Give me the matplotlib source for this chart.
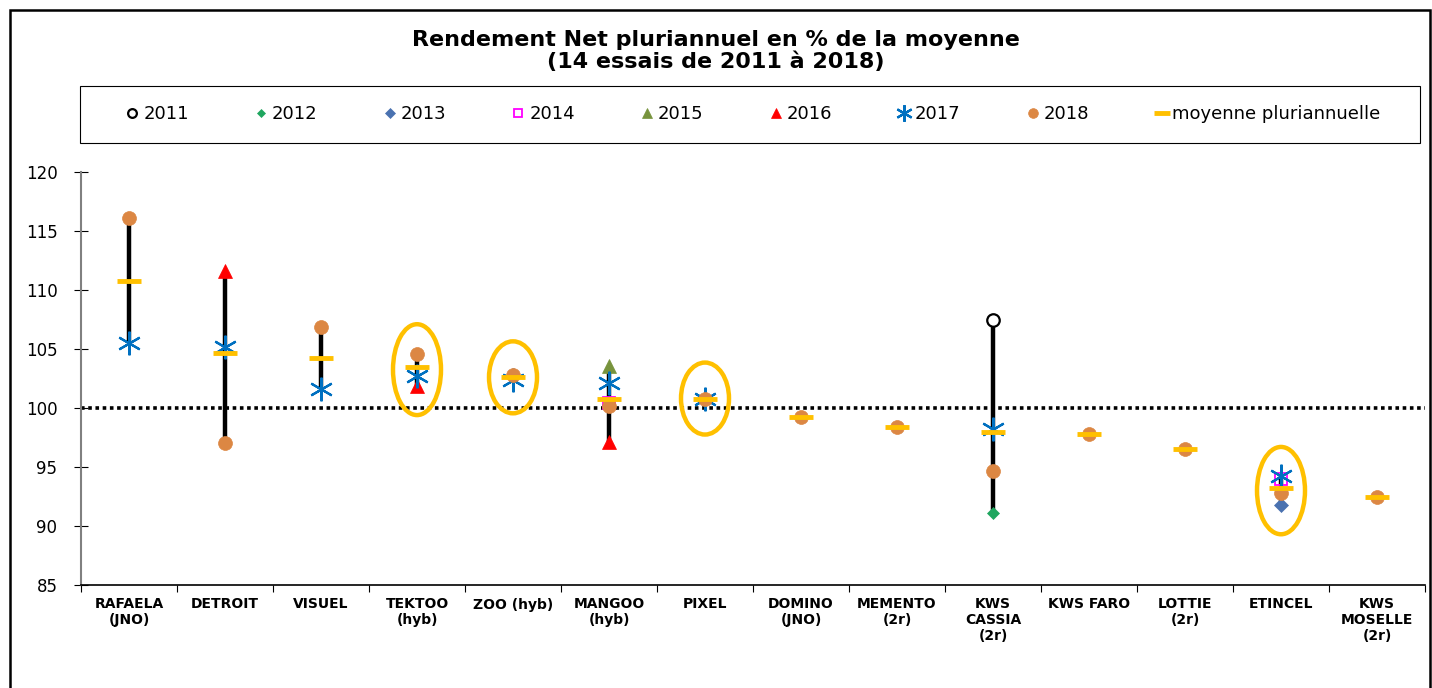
import matplotlib.pyplot as plt
import numpy as np
from matplotlib.patches import Ellipse, Rectangle

nan = np.nan

varieties = ["RAFAELA\n(JNO)", "DETROIT", "VISUEL", "TEKTOO\n(hyb)", "ZOO (hyb)",
             "MANGOO\n(hyb)", "PIXEL", "DOMINO\n(JNO)", "MEMENTO\n(2r)",
             "KWS\nCASSIA\n(2r)", "KWS FARO", "LOTTIE\n(2r)", "ETINCEL",
             "KWS\nMOSELLE\n(2r)"]

v2011 = [nan, nan, nan, nan, nan, nan, nan, nan, nan, 107.5, nan, nan, nan, nan]
v2012 = [nan, nan, nan, nan, nan, nan, nan, nan, nan, 91.1, nan, nan, nan, nan]
v2013 = [nan, nan, nan, nan, nan, nan, nan, nan, nan, nan, nan, nan, 91.8, nan]
v2014 = [nan, nan, nan, nan, nan, 100.4, nan, nan, nan, nan, nan, nan, 94.0, nan]
v2015 = [nan, nan, nan, nan, nan, 103.6, nan, nan, nan, nan, nan, nan, nan, nan]
v2016 = [nan, 111.6, nan, 101.9, nan, 97.1, nan, nan, nan, nan, nan, nan, nan, nan]
v2017 = [105.5, 105.2, 101.6, 102.7, 102.4, 102.1, 100.8, nan, nan, 98.2, nan, nan, 94.2, nan]
v2018 = [116.1, 97.0, 106.9, 104.6, 102.8, 100.2, 100.8, 99.2, 98.4, 94.7, 97.8, 96.5, 92.8, 92.5]
moyenne = [110.8, 104.7, 104.2, 103.5, 102.6, 100.8, 100.8, 99.2, 98.4, 98.0, 97.8, 96.5, 93.2, 92.5]

highlighted = ["TEKTOO\n(hyb)", "ZOO (hyb)", "PIXEL", "ETINCEL"]

years = {"2011": v2011, "2012": v2012, "2013": v2013, "2014": v2014,
         "2015": v2015, "2016": v2016, "2017": v2017, "2018": v2018}

styles = {
    "2011": dict(marker="o", ms=9, mfc="white", mec="black", mew=1.6),
    "2012": dict(marker="D", ms=6, mfc="#1FA65F", mec="#1FA65F", mew=0.5),
    "2013": dict(marker="D", ms=7, mfc="#4A72B0", mec="#4A72B0", mew=0.5),
    "2014": dict(marker="s", ms=9, mfc="none", mec="#FF00FF", mew=1.3),
    "2015": dict(marker="^", ms=10, mfc="#77933C", mec="#77933C", mew=0.5),
    "2016": dict(marker="^", ms=10, mfc="#FF0000", mec="#FF0000", mew=0.5),
    "2017": dict(marker=(6, 2, 0), ms=17, mfc="#0070C0", mec="#0070C0", mew=1.6),
    "2018": dict(marker="o", ms=10, mfc="#DC8743", mec="#DC8743", mew=0.5),
}

fig = plt.figure(figsize=(14.32, 6.88), dpi=100)
ax = fig.add_axes([81 / 1432, 1 - 585 / 688, 1344 / 1432, 413 / 688])

x = np.arange(len(varieties))
data = np.array([years[k] for k in years] + [moyenne], dtype=float)

# barre min-max par variete
lo = np.nanmin(data, axis=0)
hi = np.nanmax(data, axis=0)
ax.vlines(x, lo, hi, color="black", lw=3.2, zorder=2)

ax.axhline(100, color="black", ls=(0, (1, 1)), lw=2.6, zorder=1)

handles = []
for name, vals in years.items():
    h, = ax.plot(x, vals, ls="none", zorder=3, label=name, **styles[name])
    handles.append(h)
h, = ax.plot(x, moyenne, ls="none", marker="_", ms=17, mew=3.5,
             color="#FFC000", zorder=4, label="moyenne pluriannuelle")
handles.append(h)

# ellipses de mise en evidence
for name in highlighted:
    i = varieties.index(name)
    c = (lo[i] + hi[i]) / 2
    ht = max(hi[i] - lo[i] + 5, 6.1)
    ax.add_patch(Ellipse((i, c), 0.5, ht, fill=False, ec="#FFC000", lw=3.2, zorder=5))

ax.set_xlim(-0.5, len(varieties) - 0.5)
ax.set_ylim(85, 120)
ax.set_yticks(np.arange(85, 121, 5))
ax.tick_params(axis="y", labelsize=12, length=10, direction="inout", pad=12)
ax.set_xticks(np.arange(-0.5, len(varieties), 1))
ax.set_xticklabels([])
ax.set_xticks(x, minor=True)
ax.set_xticklabels(varieties, minor=True, fontsize=10, fontweight="bold", linespacing=1.15)
ax.tick_params(axis="x", which="minor", length=0, pad=9)
ax.tick_params(axis="x", which="major", length=5)
ax.spines["top"].set_visible(False)
ax.spines["right"].set_visible(False)
ax.spines["left"].set_color("#808080")
ax.spines["left"].set_linewidth(1.5)
ax.spines["bottom"].set_linewidth(1.2)

fig.text(0.5, 1 - 51 / 688, "Rendement Net pluriannuel en % de la moyenne\n(14 essais de 2011 à 2018)",
         ha="center", va="center", fontsize=16, fontweight="bold", linespacing=1.08)

# cadre de la legende
fig.add_artist(Rectangle((80 / 1432, 1 - 143 / 688), 1340 / 1432, 57 / 688,
                         transform=fig.transFigure, fill=False, ec="black", lw=0.8))
fig.legend(handles=handles, loc="center", ncol=9,
           bbox_to_anchor=(752 / 1432, 1 - 114 / 688),
           frameon=False, fontsize=13, handletextpad=0.1, handlelength=1.0,
           columnspacing=3.5, markerscale=0.7)

fig.add_artist(Rectangle((10 / 1432, -0.05), 1420 / 1432, 1.05 - 10 / 688,
                         transform=fig.transFigure, fill=False, ec="black", lw=1.8))

fig.savefig("out.png", dpi=100)
